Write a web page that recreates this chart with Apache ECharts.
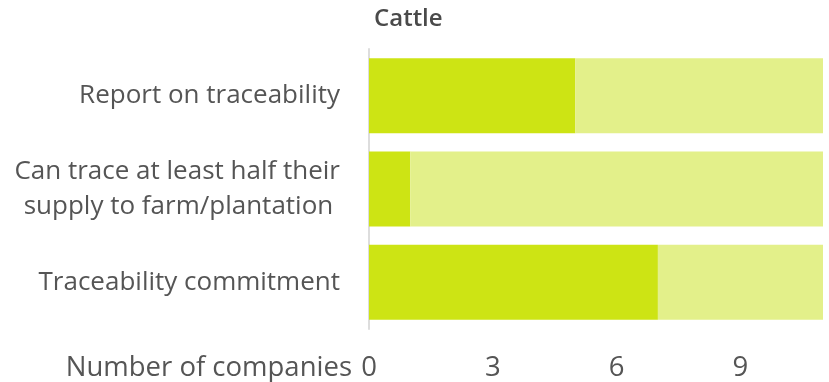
<!DOCTYPE html>
<html>
<head>
<meta charset="utf-8">
<script src="https://cdn.jsdelivr.net/npm/echarts@6/dist/echarts.min.js"></script>
<style>
  html, body { margin: 0; padding: 0; background: #fff; }
  #chart { width: 829px; height: 382px; }
</style>
</head>
<body>
<div id="chart"></div>
<script>
// Cattle traceability: companies meeting each criterion out of all assessed
const categories = [
  'Report on traceability',
  'Can trace at least half their\nsupply to farm/plantation ',
  'Traceability commitment'
];
const meeting = [5, 1, 7];
const notMeeting = [6, 10, 4];
const tickLabels = [0, 3, 6, 9];
const axisMax = 11;

const FONT = '"Open Sans", "Noto Sans", sans-serif';
const TEXT = '#555555';

const chart = echarts.init(document.getElementById('chart'), null, { renderer: 'canvas' });
chart.setOption({
  animation: false,
  backgroundColor: '#ffffff',
  title: {
    text: 'Cattle',
    left: 369,
    top: 2,
    textStyle: { fontFamily: FONT, fontSize: 24, fontWeight: 600, color: '#4a4a4a' }
  },
  grid: { left: 369, right: 6, top: 49, bottom: 52, containLabel: false },
  xAxis: {
    type: 'value',
    min: 0,
    max: axisMax,
    interval: 3,
    name: 'Number of companies',
    nameLocation: 'start',
    nameGap: 17,
    nameTextStyle: { fontFamily: FONT, fontSize: 27.5, color: TEXT, verticalAlign: 'top', padding: [25, 0, 0, 0] },
    axisLine: { show: false },
    axisTick: { show: false },
    splitLine: { show: false },
    axisLabel: {
      margin: 25,
      fontFamily: FONT,
      fontSize: 27.5,
      color: TEXT,
      formatter: v => (tickLabels.includes(v) ? String(v) : '')
    }
  },
  yAxis: {
    type: 'category',
    inverse: true,
    data: categories,
    axisLine: { show: true, lineStyle: { color: '#dddddd', width: 2 } },
    axisTick: { show: false },
    axisLabel: {
      margin: 29,
      fontFamily: FONT,
      fontSize: 26,
      lineHeight: 35,
      color: TEXT,
      align: 'right'
    }
  },
  series: [
    {
      type: 'bar',
      stack: 'total',
      data: meeting,
      barWidth: 75,
      itemStyle: { color: '#cde414' }
    },
    {
      type: 'bar',
      stack: 'total',
      data: notMeeting,
      barWidth: 75,
      itemStyle: { color: '#e3f08a' }
    }
  ]
});
</script>
</body>
</html>
